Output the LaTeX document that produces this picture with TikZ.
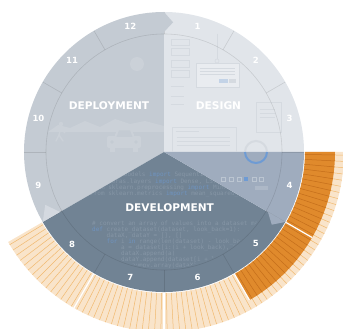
\documentclass[tikz,border=0pt]{standalone}
\usepackage{fontspec}
\setmainfont{DejaVu Sans}
\newfontfamily\codefont{DejaVu Sans Mono}
\definecolor{design}{HTML}{E1E5EA}
\definecolor{deploy}{HTML}{C4CBD3}
\definecolor{devel}{HTML}{718394}
\definecolor{medium}{HTML}{9FACBE}
\definecolor{notch}{HTML}{D4D9E0}
\definecolor{orangefill}{HTML}{E08A2C}
\definecolor{orangeline}{HTML}{C46E1B}
\definecolor{peach}{HTML}{F9E4CA}
\definecolor{peachline}{HTML}{F1B96F}
\definecolor{wireline}{HTML}{D5DAE0}
\definecolor{wirelight}{HTML}{E9ECF0}
\definecolor{deploylight}{HTML}{CBD1D8}
\definecolor{codetext}{HTML}{8696A6}
\definecolor{codekey}{HTML}{6F93BF}
\definecolor{uiblue}{HTML}{6E9BD4}
\begin{document}
\begin{tikzpicture}[x=1pt,y=1pt,
  hournum/.style={text=white,font=\fontsize{8.5}{10}\selectfont\bfseries},
  phase/.style={text=white,font=\fontsize{10.6}{12}\selectfont\bfseries},
  code/.style={anchor=base west,inner sep=0pt,text=codetext,font=\fontsize{6}{7}\codefont},
  wire/.style={draw=wireline,line width=0.6pt},
  bandline/.style={draw=black,draw opacity=0.11,line width=0.6pt},
  seam/.style={draw=white,line width=1.2pt}]
\useasboundingbox (-164,-177) rectangle (179,152);

% ---- the three phase wedges ----
\fill[design] (0,0) -- (0:140) arc[start angle=0,end angle=90,radius=140] -- cycle;
\fill[deploy] (0,0) -- (90:140) arc[start angle=90,end angle=210,radius=140] -- cycle;
\fill[devel] (0,0) -- (-150:140) arc[start angle=-150,end angle=-30,radius=140] -- cycle;
\fill[medium] (0,0) -- (-30:140) arc[start angle=-30,end angle=0,radius=140] -- cycle;

% ---- faint wireframes in the design wedge ----
\begin{scope}
\clip (0,0) -- (0:140) arc[start angle=0,end angle=90,radius=140] -- cycle;
\foreach \yt/\yb in {113/107,104/97,92/85,82/75}
  \draw[wire] (7,\yt) rectangle (25,\yb);
\foreach \yy in {66,56,48}
  \draw[wire] (7,\yy) -- (20,\yy);
\draw[wire] (53,118) -- (53,93);
\draw[wire,fill=design] (53,91) circle[radius=2];
\draw[wire,fill=wirelight] (32,89) rectangle (75,65);
\foreach \yy in {84,81,78}
  \draw[wire] (36,\yy) -- (71,\yy);
\fill[uiblue,opacity=0.3] (55,73) rectangle (64,69);
\fill[wireline] (65,73) rectangle (72,69);
\draw[wire] (92,50) rectangle (117,20);
\foreach \yy in {43,39,35}
  \draw[wire] (96,\yy) -- (111,\yy);
\draw[wire] (8,25) rectangle (72,0);
\draw[wire] (12,21) -- (35,21);
\foreach \yy in {15,11,7}
  \draw[wire] (13,\yy) -- (66,\yy);
\draw[draw=wireline,line width=2pt] (92,0) circle[radius=11];
\end{scope}

% ---- faint interface details in the highlighted wedge ----
\begin{scope}
\clip (0,0) -- (-30:140) arc[start angle=-30,end angle=0,radius=140] -- cycle;
\draw[uiblue,line width=2pt] (92,0) ++(180:11) arc[start angle=180,end angle=360,radius=11];
\foreach \xx in {57,65,73,88,95}
  \draw[draw=white,draw opacity=0.3,line width=0.6pt] (\xx,-25) rectangle ++(4.5,-4.5);
\fill[uiblue] (80,-25) rectangle ++(4.5,-4.5);
\fill[white,opacity=0.15] (91,-34) rectangle (104,-38);
\end{scope}

% ---- faint road scene in the deployment wedge ----
\begin{scope}
\clip (0,0) -- (90:140) arc[start angle=90,end angle=210,radius=140] -- cycle;
\fill[deploylight] (-27,88) circle[radius=7];
\fill[deploylight] (-116,20) -- (-106,27) -- (-94,24) -- (-79,31) -- (-64,25)
  -- (-49,33) -- (-34,28) -- (-19,31) -- (0,26) -- (0,20) -- cycle;
\fill[deploy] (-116,20) rectangle (0,18);
\fill[deploylight,rounded corners=2pt] (-50,15) -- (-46,24) -- (-33,24) -- (-29,15) -- cycle;
\fill[deploylight,rounded corners=2pt] (-57,16) rectangle (-23,4);
\fill[deploylight] (-54,5) rectangle (-49,0);
\fill[deploylight] (-31,5) rectangle (-26,0);
\fill[deploy] (-47.5,15) -- (-45,21.5) -- (-34,21.5) -- (-31.5,15) -- cycle;
\fill[deploy] (-52,10) circle[radius=1.8];
\fill[deploy] (-28,10) circle[radius=1.8];
\fill[deploylight] (-103,28) circle[radius=2.2];
\draw[deploylight,line width=1.4pt,line cap=round] (-103,25) -- (-105,17) -- (-108,11);
\draw[deploylight,line width=1.4pt,line cap=round] (-105,17) -- (-101,11);
\draw[deploylight,line width=1.2pt,line cap=round] (-108,21) -- (-103,23) -- (-99,19);
\end{scope}

% ---- faint source code in the development wedge, kept inside the hour band ----
\begin{scope}
\clip (0,0) -- (-150:140) arc[start angle=-150,end angle=-30,radius=140] -- cycle;
\clip (0,0) circle[radius=116];
\node[code] (imp1) at (-80,-24.6) {from keras.models \textcolor{codekey}{import} Sequential};
\node[code] (imp2) at (-74,-31.3) {from keras.layers \textcolor{codekey}{import} Dense, LSTM};
\node[code] (imp3) at (-74,-37.9) {from sklearn.preprocessing \textcolor{codekey}{import} MinMaxScaler};
\node[code] (imp4) at (-74,-44) {from sklearn.metrics \textcolor{codekey}{import} mean\_squared\_error};
\node[code] (cd1) at (-72,-73.3) {\# convert an array of values into a dataset matrix};
\node[code] (cd2) at (-72,-79.4) {\textcolor{codekey}{def} create\_dataset(dataset, look\_back=1):};
\node[code] (cd3) at (-57.5,-85.5) {dataX, dataY = [], []};
\node[code] (cd4) at (-57.5,-91.6) {\textcolor{codekey}{for} i \textcolor{codekey}{in} range(len(dataset) - look\_back};
\node[code] (cd5) at (-43,-97.7) {a = dataset[i:(i + look\_back), 0]};
\node[code] (cd6) at (-43,-103.8) {dataX.append(a)};
\node[code] (cd7) at (-43,-109.9) {dataY.append(dataset[i + look\_back, 0])};
\node[code] (cd8) at (-57.5,-116) {\textcolor{codekey}{return} numpy.array(dataX), numpy.array(dataY)};
\end{scope}

% ---- hour band: inner rim and hour ticks ----
\draw[bandline] (0,0) circle[radius=118];
\foreach \a in {0,30,...,330}
  \draw[bandline] (\a:118) -- (\a:140);

% ---- chevron tips where the phases meet ----
\fill[deploy] (90:140) -- (86:130) -- (90:120) -- cycle;
\fill[medium] (-30:140) -- (-34:130) -- (-30:120) -- cycle;
\fill[notch] (210:140) -- (204:130) -- (210:120) -- cycle;

% ---- hour numbers ----
\foreach \h in {1,...,12}
  \node[hournum] (h\h) at ({105-30*\h}:130) {\h};

% ---- phase names ----
\node[phase] (deployment) at (-55,46.5) {DEPLOYMENT};
\node[phase] (designlbl) at (54.5,46) {DESIGN};
\node[phase] (development) at (5.7,-55.5) {DEVELOPMENT};

% ---- progress ring outside the dial (hours 4 to 8) ----
\fill[peach] (0:141) arc[start angle=0,end angle=-150,radius=141]
  -- (-150:180) arc[start angle=-150,end angle=0,radius=180] -- cycle;
\foreach \a in {-149,-147,...,-1}
  \draw[peachline,line width=0.5pt] (\a:141) -- (\a:180);
\fill[orangefill] (0:141) arc[start angle=0,end angle=-60,radius=141]
  -- (-60:171) arc[start angle=-60,end angle=0,radius=171] -- cycle;
\foreach \a in {-59,-57,...,-1}
  \draw[orangeline,line width=0.5pt] (\a:141) -- (\a:171);
\draw[seam] (-30:141) -- (-30:171);
\draw[seam] (-60:141) -- (-60:171);
\draw[seam] (-90:141) -- (-90:181);
\draw[seam] (-120:141) -- (-120:181);
\end{tikzpicture}
\end{document}
